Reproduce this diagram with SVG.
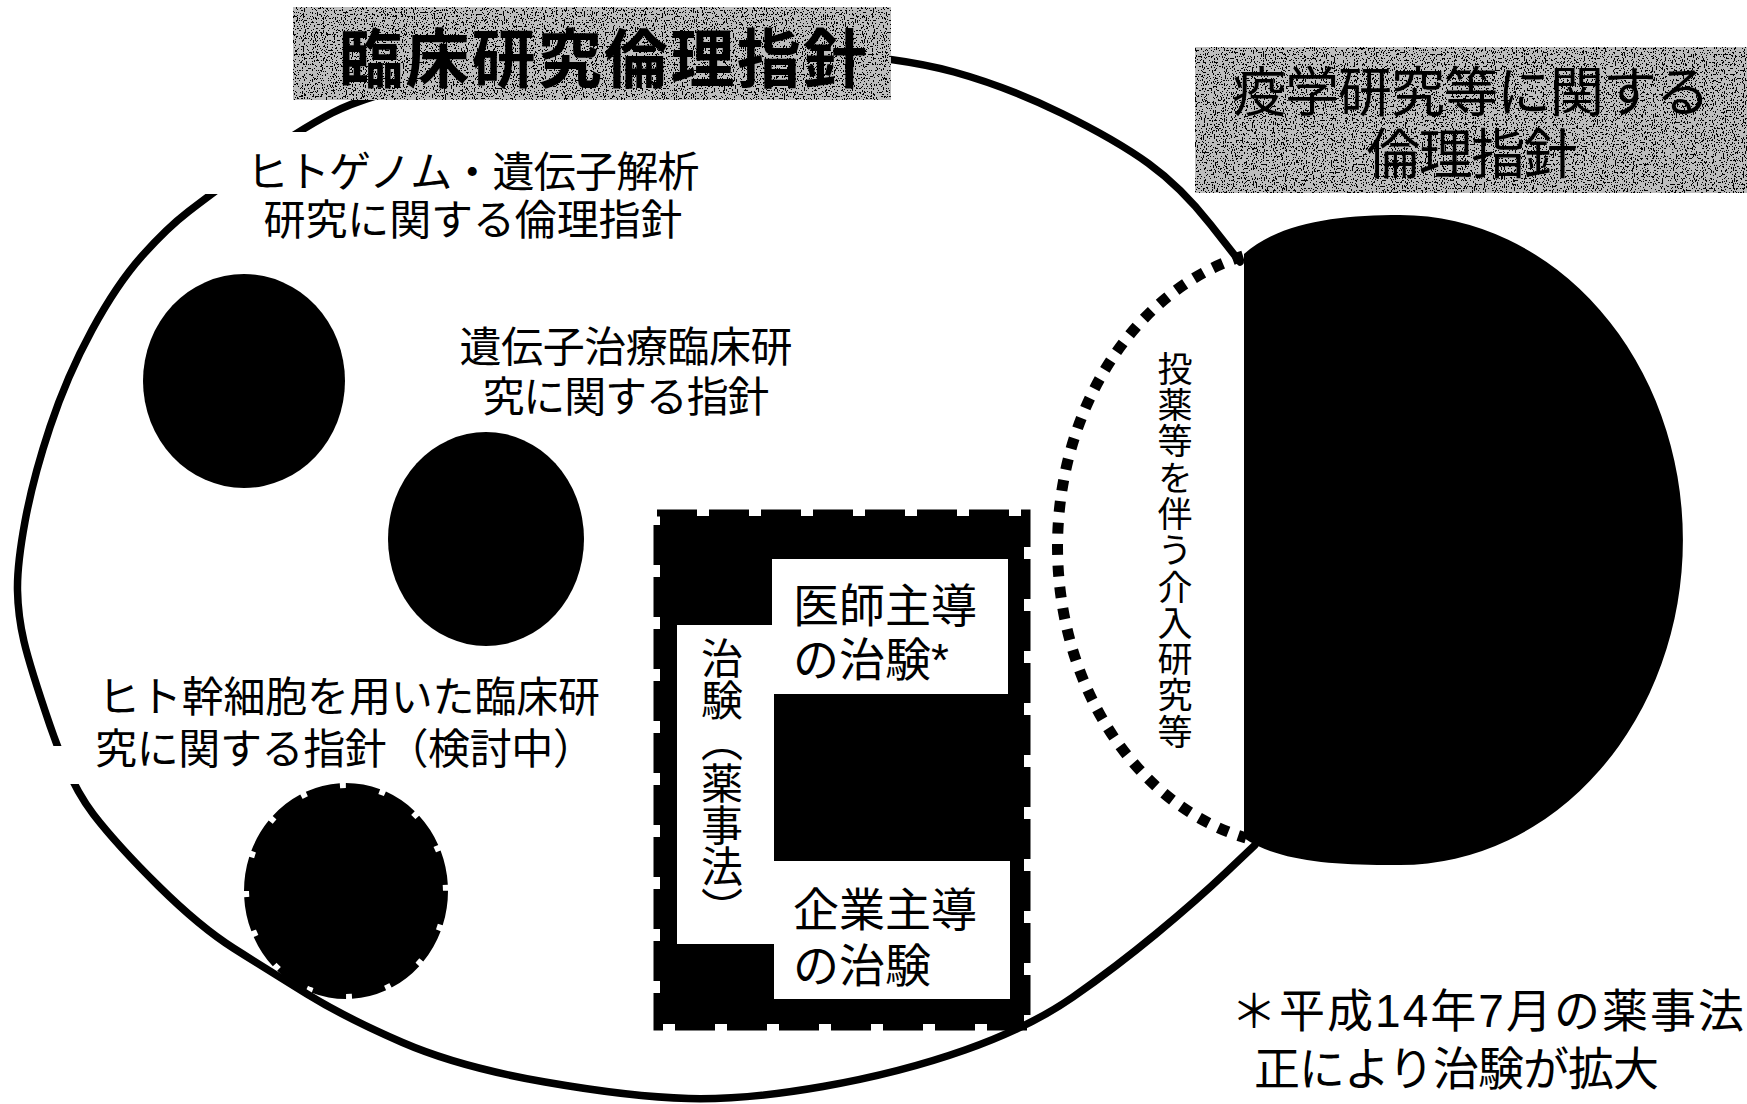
<svg xmlns="http://www.w3.org/2000/svg" width="1747" height="1104" viewBox="0 0 1747 1104">
<defs>
<filter id="speckle" x="0" y="0" width="1" height="1">
<feTurbulence type="fractalNoise" baseFrequency="0.9 0.5" numOctaves="2" seed="5" result="t"/>
<feColorMatrix in="t" type="matrix" values="0 0 0 0 0 0 0 0 0 0 0 0 0 0 0 1 0 0 0 0" result="a"/>
<feComponentTransfer in="a" result="b"><feFuncA type="discrete" tableValues="0 0 0 0 0 0 1 1 1 1"/></feComponentTransfer>
<feComposite in="b" in2="SourceGraphic" operator="in" result="c"/>
<feMerge><feMergeNode in="SourceGraphic"/><feMergeNode in="c"/></feMerge>
</filter>
</defs>
<style>
.jp{font-family:"Liberation Sans","Noto Sans CJK JP",sans-serif;fill:#000}
.line{fill:none;stroke:#000;stroke-width:7.5;stroke-linecap:round;stroke-linejoin:round}
.blob{fill:#000}
.gray{fill:#bdbdbd}
.vert{writing-mode:vertical-rl}
</style>
<rect x="0" y="0" width="1747" height="1104" fill="#fff"/>

<g id="clinical-research-ethics">
<path class="line" d="M1255,845 L1226,872.5 Q1197,900 1156.5,933.5 Q1116,967 1073,997 Q1030,1027 965,1050 Q900,1073 823,1086.5 Q746,1100 688.5,1098.5 Q631,1097 545,1082 Q459,1067 402.5,1042.5 Q346,1018 307,994 Q268,970 234,948.5 Q200,927 158.5,886 Q117,845 93.5,814.5 Q70,784 50,725.5 Q30,667 24,641.5 Q18,616 17.5,590.5 Q17,565 25,521.5 Q33,478 50,427 Q67,376 92,330 Q117,284 142,256 Q167,228 188.5,211.5 Q210,195 253.5,163 Q297,131 332,113 Q367,95 443.5,78.5 Q520,62 610,53 Q700,44 800,50.5 Q900,57 954,72 Q1008,87 1062,113.5 Q1116,140 1148.5,163.5 Q1181,187 1210.5,224.5 L1240,262"/>
</g>

<g id="genome-guideline">
<rect x="190" y="132" width="530" height="62" fill="#fff"/>
<ellipse class="blob" cx="244" cy="381" rx="101" ry="107"/>
<text class="jp" x="473" y="187" font-size="42" text-anchor="middle" textLength="453" lengthAdjust="spacing">ヒトゲノム・遺伝子解析</text>
<text class="jp" x="473" y="235" font-size="42" text-anchor="middle" textLength="419" lengthAdjust="spacing">研究に関する倫理指針</text>
</g>

<g id="gene-therapy-guideline">
<ellipse class="blob" cx="486" cy="539" rx="98" ry="107"/>
<text class="jp" x="626" y="362" font-size="42" text-anchor="middle" textLength="333" lengthAdjust="spacing">遺伝子治療臨床研</text>
<text class="jp" x="626" y="412" font-size="42" text-anchor="middle" textLength="287" lengthAdjust="spacing">究に関する指針</text>
</g>

<g id="stem-cell-guideline">
<rect x="38" y="746" width="562" height="38" fill="#fff"/>
<ellipse class="blob" cx="346" cy="891" rx="97" ry="103"/>
<ellipse cx="346" cy="891" rx="99" ry="105" fill="none" stroke="#000" stroke-width="6" stroke-dasharray="34 6"/>
<text class="jp" x="98" y="712" font-size="42" textLength="502" lengthAdjust="spacing">ヒト幹細胞を用いた臨床研</text>
<text class="jp" x="95" y="764" font-size="42" textLength="500" lengthAdjust="spacing">究に関する指針（検討中）</text>
</g>

<g id="clinical-trials">
<rect x="660" y="516" width="364" height="508" fill="#000"/>
<rect x="657" y="513" width="370" height="514" fill="none" stroke="#000" stroke-width="7" stroke-dasharray="40 12"/>
<rect x="677" y="625" width="97" height="319" fill="#fff"/>
<rect x="772" y="559" width="236" height="135" fill="#fff"/>
<rect x="774" y="861" width="236" height="138" fill="#fff"/>
<text class="jp vert" x="718" y="637" font-size="42" textLength="292" lengthAdjust="spacing">治験（薬事法）</text>
<text class="jp" x="793" y="622" font-size="46">医師主導</text>
<text class="jp" x="793" y="676" font-size="46">の治験*</text>
<text class="jp" x="793" y="926" font-size="46">企業主導</text>
<text class="jp" x="793" y="982" font-size="46">の治験</text>
</g>

<g id="interventional-research">
<path d="M1243,256 A247,300 0 0,0 1246,838" fill="none" stroke="#000" stroke-width="11" stroke-dasharray="11 10.5"/>
<text class="jp vert" x="1172" y="351" font-size="35" textLength="398" lengthAdjust="spacing">投薬等を伴う介入研究等</text>
</g>

<g id="epidemiology-ethics">
<path class="blob" d="M1244,254 C1280,222 1340,215 1400,215 A283,325 0 0,1 1400,865 C1330,866 1275,860 1244,838 Z"/>
<rect class="gray" x="1195" y="47" width="552" height="146" filter="url(#speckle)"/>
<text class="jp" x="1471" y="112" font-size="54" text-anchor="middle" textLength="478" lengthAdjust="spacing">疫学研究等に関する</text>
<text class="jp" x="1472" y="174" font-size="54" text-anchor="middle" textLength="211" lengthAdjust="spacing">倫理指針</text>
</g>

<g id="clinical-research-title">
<rect class="gray" x="293" y="7" width="598" height="93" filter="url(#speckle)"/>
<text class="jp" x="603" y="82" font-size="64" font-weight="700" text-anchor="middle" textLength="528" lengthAdjust="spacing">臨床研究倫理指針</text>
</g>

<g id="footnote">
<text class="jp" x="1231" y="1027" font-size="46" textLength="513" lengthAdjust="spacing">＊平成14年7月の薬事法</text>
<text class="jp" x="1254" y="1085" font-size="46" textLength="405" lengthAdjust="spacing">正により治験が拡大</text>
</g>

<g id="connectors"/>
</svg>
